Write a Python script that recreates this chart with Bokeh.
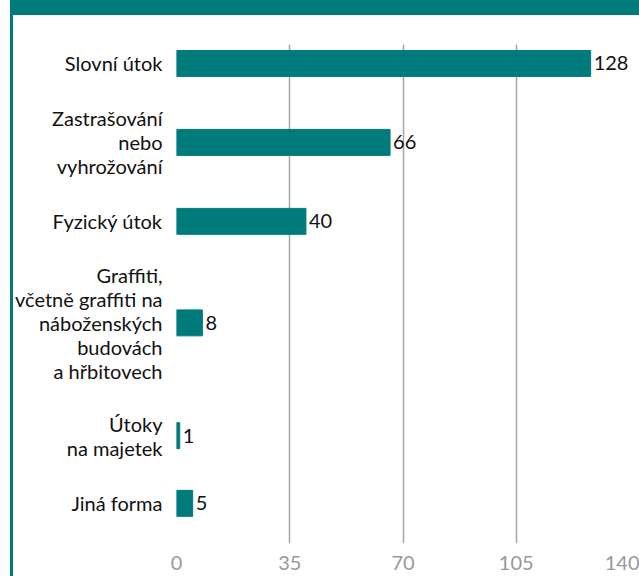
import numpy as np
from bokeh.plotting import figure
from bokeh.models import ColumnDataSource, Range1d, FixedTicker
from bokeh.embed import file_html
from bokeh.resources import INLINE
from bokeh.core.properties import value

categories = [
    "Slovní útok",
    "Zastrašování\nnebo\nvyhrožování",
    "Fyzický útok",
    "Graffiti,\nvčetně graffiti na\nnáboženských\nbudovách\na hřbitovech",
    "Útoky\nna majetek",
    "Jiná forma",
]
counts = [128, 66, 40, 8, 1, 5]
x_ticks = [0, 35, 70, 105, 140]

TEAL = "#007b7b"
FONT = "Lato"
FS = "20px"
TEXT = "#111111"

# each category row is as tall as its label (in text lines) plus 1.5 lines of spacing
n_lines = np.array([c.count("\n") + 1 for c in categories], dtype=float)
band = n_lines + 1.5
ypos = np.cumsum(band) - band / 2

source = ColumnDataSource(dict(y=ypos, count=counts, label=[str(c) for c in counts]))

p = figure(width=639, height=576, output_backend="svg", toolbar_location=None,
           x_range=Range1d(0, 140), y_range=Range1d(22.53, 0.41),
           min_border_left=176, min_border_right=10, min_border_top=44, min_border_bottom=33)
p.outline_line_color = None
p.border_fill_color = None
p.background_fill_color = None
# teal header band and left border as the figure's CSS background
p.styles = {
    "background-color": "white",
    "background-image": f"linear-gradient({TEAL},{TEAL}), linear-gradient({TEAL},{TEAL})",
    "background-size": "629px 15px, 3px 576px",
    "background-position": "10px 0px, 10px 0px",
    "background-repeat": "no-repeat",
}

p.hbar(y="y", left=0, right="count", height=1.15, color=TEAL, source=source)
p.text(x="count", y="y", text="label", source=source, x_offset=3, text_baseline="middle",
       text_align="left", text_font=value(FONT), text_font_size=FS, text_color=TEXT)

p.xaxis.ticker = FixedTicker(ticks=x_ticks)
p.xaxis.axis_line_color = None
p.xaxis.major_tick_line_color = None
p.xaxis.minor_tick_line_color = None
p.xaxis.major_label_text_font = FONT
p.xaxis.major_label_text_font_size = FS
p.xaxis.major_label_text_color = "#999999"
p.xaxis.major_label_standoff = 6

p.yaxis.ticker = FixedTicker(ticks=[float(v) for v in ypos])
p.yaxis.major_label_overrides = {float(v): c for v, c in zip(ypos, categories)}
p.yaxis.axis_line_color = None
p.yaxis.major_tick_line_color = None
p.yaxis.minor_tick_line_color = None
p.yaxis.major_label_text_font = FONT
p.yaxis.major_label_text_font_size = FS
p.yaxis.major_label_text_color = TEXT
p.yaxis.major_label_text_line_height = 1.0
p.yaxis.major_label_standoff = 8

p.xgrid.grid_line_color = "#a6a6a6"
p.xgrid.grid_line_width = 1.5
p.ygrid.grid_line_color = None

open("out.html", "w").write(file_html(p, INLINE))
